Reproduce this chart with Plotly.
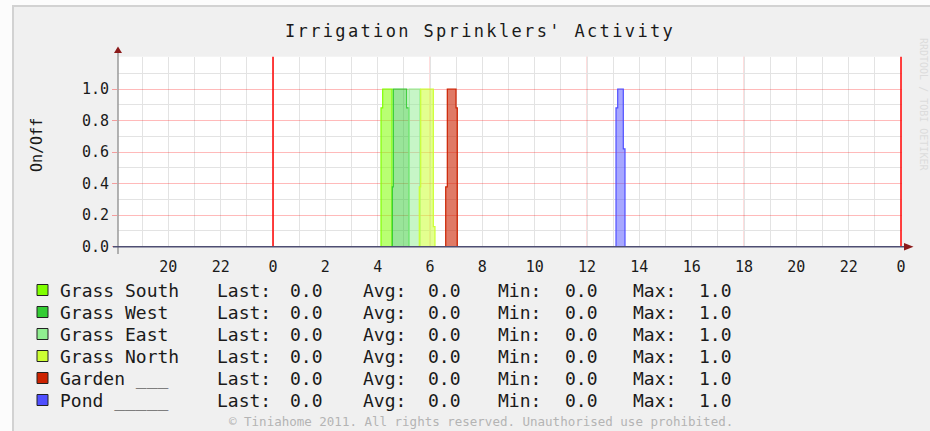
import numpy as np
import plotly.graph_objects as go

W, H = 930, 431
MONO = "DejaVu Sans Mono"

# ---- data -------------------------------------------------------------
# time in hours relative to midnight (negative = previous evening)
window_start, window_end = -5.924, 24.038

series_labels = ["Grass South", "Grass West", "Grass East", "Grass North",
                 "Garden ___", "Pond _____"]
series_colors = ["#80ff00", "#33cc33", "#90ee90", "#ccff33", "#cc2200", "#4f4fff"]
fill_alpha = [0.55, 0.5, 0.5, 0.55, 0.6, 0.5]

grass_south_t = [-6, 4.127, 4.127, 4.192, 4.192, 4.548, 4.548, 24.1]
grass_south_v = [0, 0, 0.88, 0.88, 1.0, 1.0, 0, 0]

grass_west_t = [-6, 4.559, 4.559, 4.598, 4.598, 5.110, 5.110, 5.197, 5.197, 24.1]
grass_west_v = [0, 0, 0.38, 0.38, 1.0, 1.0, 0.88, 0.88, 0, 0]

grass_east_t = [-6, 5.197, 5.197, 5.618, 5.618, 24.1]
grass_east_v = [0, 0, 1.0, 1.0, 0, 0]

grass_north_t = [-6, 5.590, 5.590, 5.645, 5.645, 6.127, 6.127, 6.190, 6.190, 24.1]
grass_north_v = [0, 0, 0.38, 0.38, 1.0, 1.0, 0.127, 0.127, 0, 0]

garden_t = [-6, 6.600, 6.600, 6.661, 6.661, 6.994, 6.994, 7.043, 7.043, 24.1]
garden_v = [0, 0, 0.38, 0.38, 1.0, 1.0, 0.88, 0.88, 0, 0]

pond_t = [-6, 13.108, 13.108, 13.173, 13.173, 13.387, 13.387, 13.452, 13.452, 24.1]
pond_v = [0, 0, 0.88, 0.88, 1.0, 1.0, 0.62, 0.62, 0, 0]

series_t = [grass_south_t, grass_west_t, grass_east_t, grass_north_t, garden_t, pond_t]
series_v = [grass_south_v, grass_west_v, grass_east_v, grass_north_v, garden_v, pond_v]

x_tick_hours = list(range(-4, 25, 2))
y_major = [0.0, 0.2, 0.4, 0.6, 0.8, 1.0]
y_minor = [0.1, 0.3, 0.5, 0.7, 0.9, 1.1]
six_hour_marks = [6, 12, 18]
midnight_marks = [0, 24]


# ---- helpers ----------------------------------------------------------
def px(x):
    return x / W


def py(y):
    return 1 - y / H


def rgba(hex_color, a):
    h = hex_color.lstrip("#")
    r, g, b = int(h[0:2], 16), int(h[2:4], 16), int(h[4:6], 16)
    return f"rgba({r},{g},{b},{a})"


def stats(t, v):
    t = np.asarray(t, float)
    v = np.asarray(v, float)
    inside = (t >= window_start) & (t <= window_end)
    tt = np.clip(t, window_start, window_end)
    avg = np.trapezoid(v, tt) / (window_end - window_start)
    return v[inside][-1], avg, v.min(), v.max()


# plot area in pixels
PL, PR, PT, PB = 118, 902, 56.7, 246.7

fig = go.Figure()

for lab, col, a, t, v in zip(series_labels, series_colors, fill_alpha, series_t, series_v):
    fig.add_trace(go.Scatter(
        x=t, y=v, mode="lines", name=lab, showlegend=False,
        line=dict(color=col, width=1.2),
        fill="tozeroy", fillcolor=rgba(col, a),
        hoverinfo="skip",
    ))

shapes = []
# page strips and frame edge around the graph canvas
shapes.append(dict(type="rect", xref="paper", yref="paper", x0=0, x1=1, y0=py(5), y1=1,
                   fillcolor="#fcfcfc", line=dict(width=0), layer="below"))
shapes.append(dict(type="rect", xref="paper", yref="paper", x0=0, x1=px(12), y0=0, y1=1,
                   fillcolor="#fcfcfc", line=dict(width=0), layer="below"))
shapes.append(dict(type="line", xref="paper", yref="paper", x0=px(12), x1=1, y0=py(6), y1=py(6),
                   line=dict(color="#d2d2d2", width=2), layer="below"))
shapes.append(dict(type="line", xref="paper", yref="paper", x0=px(13), x1=px(13), y0=0, y1=py(5),
                   line=dict(color="#d2d2d2", width=2), layer="below"))
# six-hour major grid
for h in six_hour_marks:
    shapes.append(dict(type="line", xref="x", yref="y domain", x0=h, x1=h, y0=0, y1=1,
                       line=dict(color="rgba(255,0,0,0.27)", width=1), layer="below"))
# midnight rules
for h in midnight_marks:
    shapes.append(dict(type="line", xref="x", yref="y domain", x0=h, x1=h, y0=0, y1=1,
                       line=dict(color="#ff1010", width=1.6), layer="above"))
# axes
shapes.append(dict(type="line", xref="paper", yref="paper",
                   x0=px(PL), x1=px(PL), y0=py(254), y1=py(51),
                   line=dict(color="#9a9a9a", width=1.5), layer="above"))
shapes.append(dict(type="line", xref="paper", yref="paper",
                   x0=px(113), x1=px(906), y0=py(PB), y1=py(PB),
                   line=dict(color="#4e4e72", width=1.5), layer="above"))
# axis arrow heads
shapes.append(dict(type="path", xref="paper", yref="paper",
                   path=f"M {px(114)},{py(53)} L {px(122)},{py(53)} L {px(118)},{py(46.5)} Z",
                   fillcolor="#8b1a1a", line=dict(width=0), layer="above"))
shapes.append(dict(type="path", xref="paper", yref="paper",
                   path=f"M {px(904)},{py(PB-3.8)} L {px(904)},{py(PB+3.8)} L {px(913.5)},{py(PB)} Z",
                   fillcolor="#8b1a1a", line=dict(width=0), layer="above"))

annotations = []
# title
annotations.append(dict(
    text="<span style='letter-spacing:2.35px'>Irrigation Sprinklers' Activity</span>",
    xref="paper", yref="paper", x=px(480), y=py(31), xanchor="center", yanchor="middle",
    showarrow=False, font=dict(family=MONO, size=17, color="#1a1a1a")))
# vertical axis title
annotations.append(dict(
    text="On/Off", xref="paper", yref="paper", x=px(37), y=py(145),
    xanchor="center", yanchor="middle", textangle=-90, showarrow=False,
    font=dict(family=MONO, size=15, color="#1a1a1a")))

# legend with statistics
row0, row_step = 290, 22
cols = {"Last:": (215, 288), "Avg:": (361, 426), "Min:": (496, 563), "Max:": (631, 697)}
for i, (lab, col, t, v) in enumerate(zip(series_labels, series_colors, series_t, series_v)):
    yy = row0 + i * row_step
    shapes.append(dict(type="rect", xref="paper", yref="paper",
                       x0=px(37), x1=px(48), y0=py(yy + 5.5), y1=py(yy - 5.5),
                       fillcolor=col, line=dict(color="#222222", width=1), layer="above"))
    annotations.append(dict(text=lab, xref="paper", yref="paper", x=px(58), y=py(yy),
                            xanchor="left", yanchor="middle", showarrow=False,
                            font=dict(family=MONO, size=18, color="#1a1a1a")))
    last, avg, vmin, vmax = stats(t, v)
    for key, val in zip(cols, [last, avg, vmin, vmax]):
        kx, vx = cols[key]
        annotations.append(dict(text=key, xref="paper", yref="paper", x=px(kx), y=py(yy),
                                xanchor="left", yanchor="middle", showarrow=False,
                                font=dict(family=MONO, size=18, color="#1a1a1a")))
        annotations.append(dict(text=f"{val:.1f}", xref="paper", yref="paper", x=px(vx), y=py(yy),
                                xanchor="left", yanchor="middle", showarrow=False,
                                font=dict(family=MONO, size=18, color="#1a1a1a")))

annotations.append(dict(
    text="© Tiniahome 2011. All rights reserved. Unauthorised use prohibited.",
    xref="paper", yref="paper", x=px(481), y=py(421), xanchor="center", yanchor="middle",
    showarrow=False, font=dict(family=MONO, size=12.5, color="#b4b4b4")))
annotations.append(dict(
    text="RRDTOOL / TOBI OETIKER", xref="paper", yref="paper", x=px(924), y=py(104),
    xanchor="center", yanchor="middle", textangle=90, showarrow=False,
    font=dict(family=MONO, size=10, color="#dcdcdc")))

fig.update_layout(
    width=W, height=H, autosize=False,
    margin=dict(l=0, r=0, t=0, b=0, pad=0, autoexpand=False),
    paper_bgcolor="#f0f0f0", plot_bgcolor="#ffffff",
    shapes=shapes, annotations=annotations, showlegend=False,
    xaxis=dict(
        domain=[px(PL), px(PR)], range=[window_start, window_end],
        tickmode="array", tickvals=x_tick_hours,
        ticktext=[str(h % 24) for h in x_tick_hours],
        showgrid=True, gridcolor="#e3e3e3", gridwidth=1,
        minor=dict(dtick=1, tick0=0, showgrid=True, gridcolor="#e3e3e3", gridwidth=1),
        ticks="outside", ticklen=6, tickcolor="rgba(0,0,0,0)",
        showline=False, zeroline=False, automargin=False,
        tickfont=dict(family=MONO, size=15, color="#1a1a1a"),
        fixedrange=True,
    ),
    yaxis=dict(
        domain=[py(PB), py(PT)], range=[0, 1.205],
        tickmode="array", tickvals=y_major, tickformat=".1f",
        showgrid=True, gridcolor="rgba(255,0,0,0.27)", gridwidth=1,
        minor=dict(tickmode="array", tickvals=y_minor, showgrid=True,
                   gridcolor="#e3e3e3", gridwidth=1),
        ticks="outside", ticklen=5, tickcolor="rgba(255,0,0,0.35)",
        showline=False, zeroline=False, automargin=False,
        tickfont=dict(family=MONO, size=15, color="#1a1a1a"),
        fixedrange=True,
    ),
)

fig.write_html("out.html", config={"displayModeBar": False})
